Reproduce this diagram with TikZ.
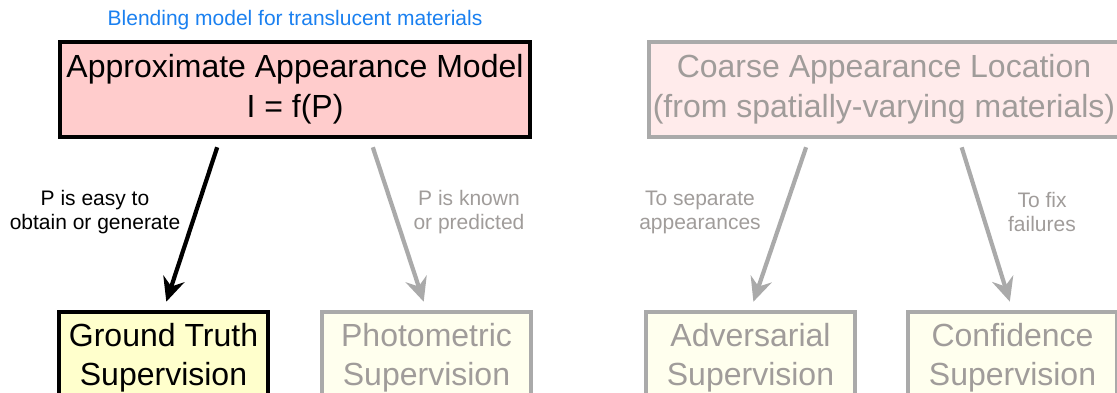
\documentclass[tikz,border=0pt]{standalone}
\usepackage{fontspec}
\setmainfont{Liberation Sans}
\usetikzlibrary{arrows.meta}

\definecolor{modelpink}{HTML}{FFCCCC}
\definecolor{locpink}{HTML}{FFEBEB}
\definecolor{gtyellow}{HTML}{FFFFCC}
\definecolor{supyellow}{HTML}{FFFFEE}
\definecolor{fadeline}{HTML}{AAAAAA}
\definecolor{fadetext}{HTML}{A09C9A}
\definecolor{titleblue}{HTML}{1A80F0}

\begin{document}
\begin{tikzpicture}[x=1pt,y=-1pt,
    bigbox/.style={draw,line width=3.5pt,minimum width=470pt,minimum height=95pt,
        inner sep=0pt,align=center,font=\fontsize{32}{40}\selectfont},
    supbox/.style={draw,line width=3.5pt,minimum width=209pt,minimum height=92pt,
        inner sep=0pt,align=center,font=\fontsize{32}{39}\selectfont},
    faded/.style={draw=fadeline,text=fadetext},
    arr/.style={line width=4.2pt,-{Stealth[length=24pt,width=22pt,inset=8pt]},
        shorten <=9pt,shorten >=9pt},
    lbl/.style={align=center,font=\fontsize{21}{24}\selectfont}]
    \clip (0,0) rectangle (1117,393);

    % top row
    \node [font=\fontsize{21}{24}\selectfont,text=titleblue,anchor=base] (title) at (295,26)
        {Blending model for translucent materials};
    \node [bigbox,fill=modelpink] (model) at (295,89.5)
        {Approximate Appearance Model\\I = f(P)};
    \node [bigbox,faded,fill=locpink] (loc) at (884,89.5)
        {Coarse Appearance Location\\(from spatially-varying materials)};

    % bottom row
    \node [supbox,fill=gtyellow] (gt) at (163.5,358) {Ground Truth\\Supervision};
    \node [supbox,faded,fill=supyellow] (photo) at (426.5,358) {Photometric\\Supervision};
    \node [supbox,faded,fill=supyellow] (adv) at (750.5,358) {Adversarial\\Supervision};
    \node [supbox,faded,fill=supyellow] (conf) at (1012.5,358) {Confidence\\Supervision};

    % arrows
    \draw [arr,black] ([xshift=-75pt]model.south) -- (gt.north);
    \draw [arr,fadeline] ([xshift=75pt]model.south) -- (photo.north);
    \draw [arr,fadeline] ([xshift=-75pt]loc.south) -- (adv.north);
    \draw [arr,fadeline] ([xshift=75pt]loc.south) -- (conf.north);

    % labels
    \node [lbl] (easy) at (95,212) {P is easy to\\obtain or generate};
    \node [lbl,text=fadetext] (known) at (469,212) {P is known\\or predicted};
    \node [lbl,text=fadetext] (sep) at (700,212) {To separate\\appearances};
    \node [lbl,text=fadetext] (fix) at (1042,212) {To fix\\failures};
\end{tikzpicture}
\end{document}
